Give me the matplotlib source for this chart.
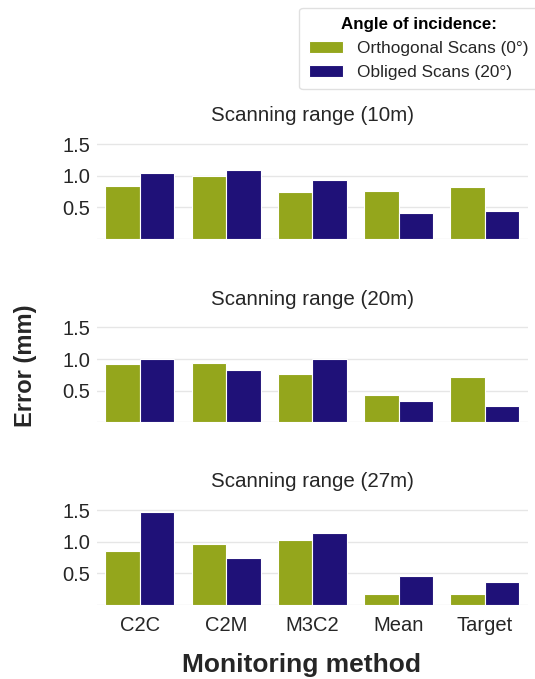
import numpy as np
import matplotlib
matplotlib.use("Agg")
import matplotlib.pyplot as plt

plt.rcParams['font.family'] = ['Liberation Sans', 'DejaVu Sans']

methods = ["C2C", "C2M", "M3C2", "Mean", "Target"]
ranges = ["Scanning range (10m)", "Scanning range (20m)", "Scanning range (27m)"]
orthogonal = [
    [0.84, 0.99, 0.74, 0.76, 0.82],
    [0.92, 0.94, 0.77, 0.43, 0.72],
    [0.85, 0.97, 1.02, 0.18, 0.18],
]
obliged = [
    [1.05, 1.09, 0.94, 0.41, 0.44],
    [1.00, 0.82, 1.00, 0.34, 0.26],
    [1.47, 0.75, 1.14, 0.46, 0.36],
]
series_labels = ["Orthogonal Scans (0°)", "Obliged Scans (20°)"]
colors = ["#94a61c", "#1f1178"]

fig = plt.figure(figsize=(5.35, 6.79), dpi=100)
bottoms = [0.648, 0.378, 0.109]
x = np.arange(len(methods))
w = 0.4
txt = "#262626"

for i in range(3):
    ax = fig.add_axes([0.181, bottoms[i], 0.806, 0.149])
    b1 = ax.bar(x - w / 2, orthogonal[i], w, color=colors[0], edgecolor="white", linewidth=0.8,
                label=series_labels[0], zorder=3)
    b2 = ax.bar(x + w / 2, obliged[i], w, color=colors[1], edgecolor="white", linewidth=0.8,
                label=series_labels[1], zorder=3)
    ax.set_xlim(-0.5, 4.5)
    ax.set_ylim(0, 1.6)
    ax.set_yticks([0, 0.5, 1.0, 1.5])
    ax.set_yticklabels(["", "0.5", "1.0", "1.5"])
    ax.grid(axis="y", color="#e6e6e6", linewidth=1.0, zorder=0)
    for s in ax.spines.values():
        s.set_visible(False)
    ax.tick_params(length=0, labelsize=14.5, colors=txt, pad=5)
    ax.tick_params(axis="x", pad=8)
    ax.set_xticks(x)
    if i == 2:
        ax.set_xticklabels(methods)
    else:
        ax.set_xticklabels([])
    ax.set_title(ranges[i], fontsize=14.8, color=txt, pad=12)

leg = fig.legend([b1, b2], series_labels, title="Angle of incidence:", loc="upper right",
                 bbox_to_anchor=(1.022, 1.001), fontsize=12.4, frameon=True, edgecolor="#d9d9d9",
                 fancybox=True, handlelength=2.0, handleheight=0.7, labelspacing=0.5,
                 borderpad=0.55)
leg.get_title().set_fontweight("bold")
leg.get_title().set_fontsize(12.2)
for t in leg.get_texts():
    t.set_color(txt)

fig.text(0.047, 0.462, "Error (mm)", rotation=90, fontsize=17, fontweight="bold",
         color=txt, ha="center", va="center")
fig.text(0.564, 0.021, "Monitoring method", fontsize=19, fontweight="bold",
         color=txt, ha="center", va="center")

fig.savefig("out.png", dpi=100, facecolor="white")
